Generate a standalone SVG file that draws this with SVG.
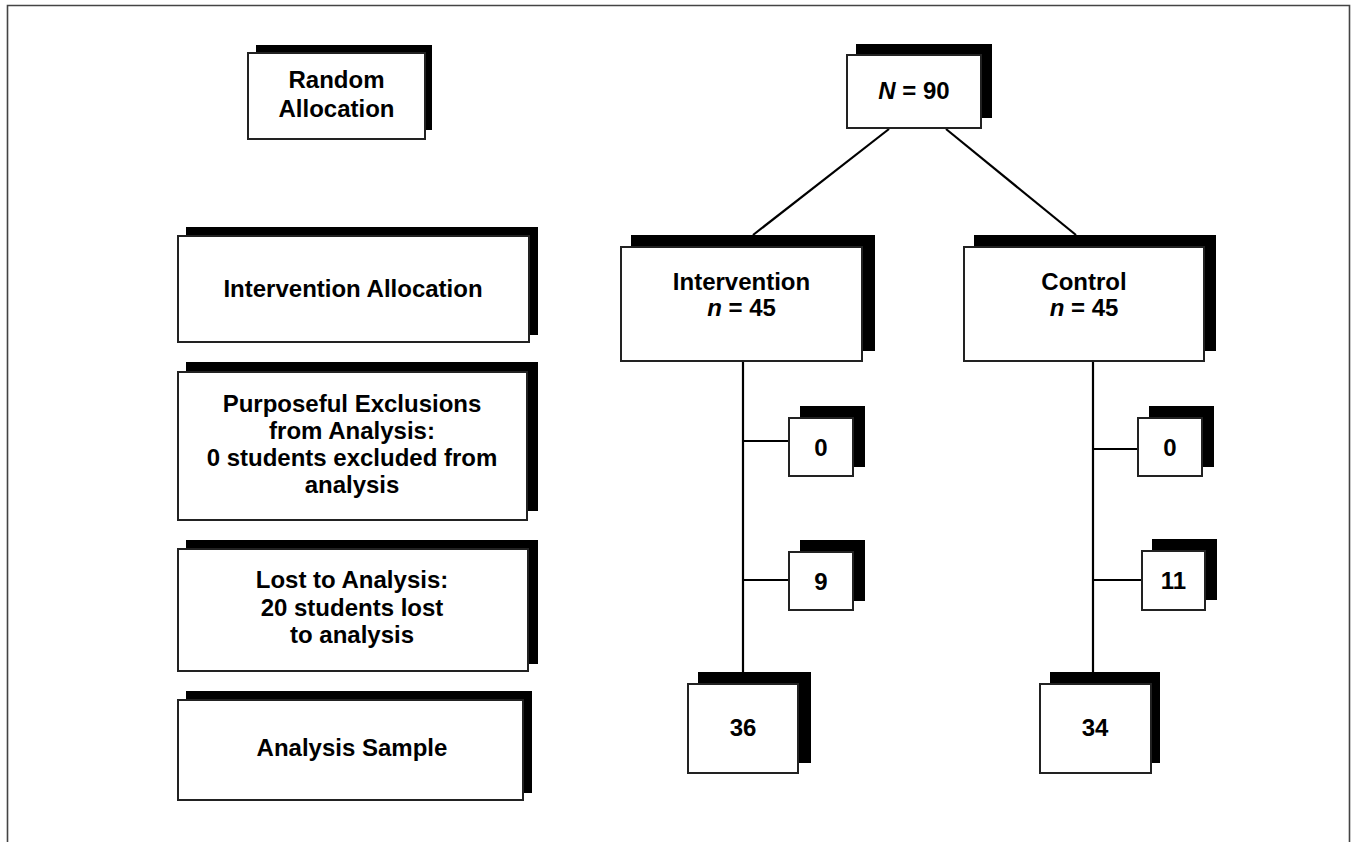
<svg xmlns="http://www.w3.org/2000/svg" width="1351" height="842" viewBox="0 0 1351 842">
<style>
.sh{fill:#000}
.bx{fill:#fff;stroke:#222;stroke-width:2}
.t{font-family:"Liberation Sans",Arial,sans-serif;font-weight:bold;font-size:24px;fill:#000;text-anchor:middle}
.ln{stroke:#000;stroke-width:2.2;fill:none}
.fr{stroke:#444;stroke-width:1.6;fill:none}
</style>
<rect x="0" y="0" width="1351" height="842" fill="#fff"/>
<path class="fr" d="M7.5,842 V5.5 H1349.5 V842"/>
<g id="connectors">
<line class="ln" x1="889" y1="129" x2="753" y2="235"/>
<line class="ln" x1="946" y1="129" x2="1076" y2="235"/>
<line class="ln" x1="743" y1="361" x2="743" y2="684" stroke-width="2.6"/>
<line class="ln" x1="1093" y1="361" x2="1093" y2="684" stroke-width="2.6"/>
<line class="ln" x1="743" y1="441" x2="789" y2="441"/>
<line class="ln" x1="743" y1="580" x2="789" y2="580"/>
<line class="ln" x1="1093" y1="449" x2="1138" y2="449"/>
<line class="ln" x1="1093" y1="580" x2="1142" y2="580"/>
</g>
<g id="random-allocation">
<rect class="sh" x="256" y="45" width="176" height="85"/>
<rect class="bx" x="248" y="53" width="177" height="86"/>
<text class="t" x="336.5" y="88">Random</text>
<text class="t" x="336.5" y="117">Allocation</text>
</g>
<g id="n90">
<rect class="sh" x="856" y="44" width="136" height="74"/>
<rect class="bx" x="847" y="55" width="134" height="73"/>
<text class="t" x="914" y="99"><tspan font-style="italic">N</tspan> = 90</text>
</g>
<g id="intervention-allocation">
<rect class="sh" x="186" y="227" width="352" height="108"/>
<rect class="bx" x="178" y="236" width="351" height="106"/>
<text class="t" x="353" y="297">Intervention Allocation</text>
</g>
<g id="purposeful-exclusions">
<rect class="sh" x="186" y="362" width="352" height="149"/>
<rect class="bx" x="178" y="372" width="349" height="148"/>
<text class="t" x="352" y="412">Purposeful Exclusions</text>
<text class="t" x="352" y="439">from Analysis:</text>
<text class="t" x="352" y="466">0 students excluded from</text>
<text class="t" x="352" y="493">analysis</text>
</g>
<g id="lost-to-analysis">
<rect class="sh" x="186" y="540" width="352" height="124"/>
<rect class="bx" x="178" y="549" width="350" height="122"/>
<text class="t" x="352" y="588">Lost to Analysis:</text>
<text class="t" x="352" y="616">20 students lost</text>
<text class="t" x="352" y="643">to analysis</text>
</g>
<g id="analysis-sample">
<rect class="sh" x="186" y="691" width="346" height="102"/>
<rect class="bx" x="178" y="700" width="345" height="100"/>
<text class="t" x="352" y="756">Analysis Sample</text>
</g>
<g id="intervention">
<rect class="sh" x="631" y="235" width="244" height="116"/>
<rect class="bx" x="621" y="247" width="241" height="114"/>
<text class="t" x="741.5" y="290">Intervention</text>
<text class="t" x="741.5" y="316"><tspan font-style="italic">n</tspan> = 45</text>
</g>
<g id="control">
<rect class="sh" x="974" y="235" width="242" height="116"/>
<rect class="bx" x="964" y="247" width="240" height="114"/>
<text class="t" x="1084" y="290">Control</text>
<text class="t" x="1084" y="316"><tspan font-style="italic">n</tspan> = 45</text>
</g>
<g id="int-excl">
<rect class="sh" x="800" y="406" width="65" height="61"/>
<rect class="bx" x="789" y="418" width="64" height="58"/>
<text class="t" x="821" y="456">0</text>
</g>
<g id="int-lost">
<rect class="sh" x="800" y="540" width="65" height="61"/>
<rect class="bx" x="789" y="552" width="64" height="58"/>
<text class="t" x="821" y="590">9</text>
</g>
<g id="int-sample">
<rect class="sh" x="698" y="672" width="113" height="91"/>
<rect class="bx" x="688" y="684" width="110" height="89"/>
<text class="t" x="743" y="736">36</text>
</g>
<g id="ctl-excl">
<rect class="sh" x="1149" y="406" width="65" height="61"/>
<rect class="bx" x="1138" y="418" width="64" height="58"/>
<text class="t" x="1170" y="456">0</text>
</g>
<g id="ctl-lost">
<rect class="sh" x="1152" y="539" width="65" height="61"/>
<rect class="bx" x="1142" y="551" width="63" height="59"/>
<text class="t" x="1173.5" y="589">11</text>
</g>
<g id="ctl-sample">
<rect class="sh" x="1050" y="672" width="110" height="91"/>
<rect class="bx" x="1040" y="684" width="111" height="89"/>
<text class="t" x="1095" y="736">34</text>
</g>
</svg>
